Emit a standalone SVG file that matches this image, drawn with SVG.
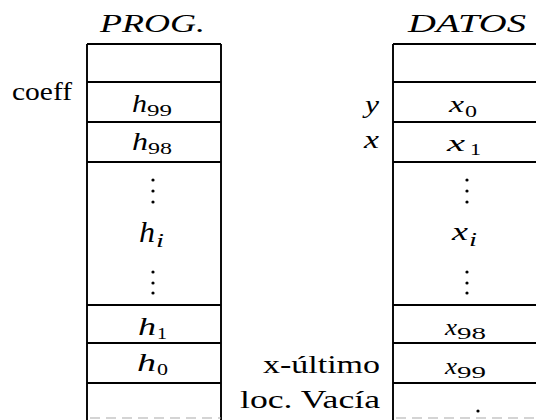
<svg xmlns="http://www.w3.org/2000/svg" width="536" height="420" viewBox="0 0 536 420">
<style>
.ln{stroke:#000;stroke-width:1.9;fill:none}
.faint{stroke:#aaa;stroke-width:1.2;stroke-dasharray:10 6;fill:none}
.t{font-family:"Liberation Serif","DejaVu Serif",serif;fill:#000}
.m{font-family:"Liberation Serif","DejaVu Serif",serif;font-style:italic;fill:#000}
.d{fill:#000}
</style>
<rect width="536" height="420" fill="#fff"/>
<g id="titles">
<text class="m" x="100" y="32" font-size="26" textLength="105" lengthAdjust="spacingAndGlyphs">PROG.</text>
<text class="m" x="408" y="32" font-size="26" textLength="118" lengthAdjust="spacingAndGlyphs">DATOS</text>
</g>
<g id="prog">
<path class="ln" d="M87,44 V420 M221,44 V420 M87,44 H221 M87,82 H221 M87,122 H221 M87,162 H221 M87,305 H221 M87,343 H221 M87,383 H221"/>
<path class="faint" d="M90,418 H221"/>
<g id="h99"><text class="m" x="132" y="112" font-size="25" textLength="15" lengthAdjust="spacingAndGlyphs">h</text><text class="t" x="147" y="116" font-size="17" textLength="25" lengthAdjust="spacingAndGlyphs">99</text></g>
<g id="h98"><text class="m" x="132" y="150" font-size="25" textLength="16" lengthAdjust="spacingAndGlyphs">h</text><text class="t" x="148" y="154" font-size="17" textLength="24" lengthAdjust="spacingAndGlyphs">98</text></g>
<g id="dots1"><circle class="d" cx="153" cy="180" r="1.6"/><circle class="d" cx="153" cy="191" r="1.6"/><circle class="d" cx="153" cy="202" r="1.6"/></g>
<g id="hi"><text class="m" x="139" y="242" font-size="30" textLength="16" lengthAdjust="spacingAndGlyphs">h</text><text class="m" x="156" y="247" font-size="18" textLength="8" lengthAdjust="spacingAndGlyphs">i</text></g>
<g id="dots2"><circle class="d" cx="153" cy="272" r="1.6"/><circle class="d" cx="153" cy="283" r="1.6"/><circle class="d" cx="153" cy="293" r="1.6"/></g>
<g id="h1"><text class="m" x="138" y="335" font-size="26" textLength="18" lengthAdjust="spacingAndGlyphs">h</text><text class="t" x="157" y="339" font-size="17" textLength="10" lengthAdjust="spacingAndGlyphs">1</text></g>
<g id="h0"><text class="m" x="137" y="371" font-size="26" textLength="19" lengthAdjust="spacingAndGlyphs">h</text><text class="t" x="157" y="375" font-size="17" textLength="11" lengthAdjust="spacingAndGlyphs">0</text></g>
</g>
<g id="datos">
<path class="ln" d="M393,44 V420 M393,44 H536 M393,82 H536 M393,122 H536 M393,162 H536 M393,305 H536 M393,343 H536 M393,383 H536"/>
<path class="faint" d="M396,418 H536"/>
<g id="x0"><text class="m" x="449" y="112" font-size="24" textLength="15" lengthAdjust="spacingAndGlyphs">x</text><text class="t" x="465" y="117" font-size="17" textLength="12" lengthAdjust="spacingAndGlyphs">0</text></g>
<g id="x1"><text class="m" x="447" y="151" font-size="24" textLength="18" lengthAdjust="spacingAndGlyphs">x</text><text class="t" x="470" y="155" font-size="17" textLength="11" lengthAdjust="spacingAndGlyphs">1</text></g>
<g id="dots3"><circle class="d" cx="467" cy="180" r="1.6"/><circle class="d" cx="467" cy="191" r="1.6"/><circle class="d" cx="467" cy="202" r="1.6"/></g>
<g id="xi"><text class="m" x="452" y="240" font-size="26" textLength="16" lengthAdjust="spacingAndGlyphs">x</text><text class="m" x="469" y="246" font-size="18" textLength="8" lengthAdjust="spacingAndGlyphs">i</text></g>
<g id="dots4"><circle class="d" cx="467" cy="272" r="1.6"/><circle class="d" cx="467" cy="283" r="1.6"/><circle class="d" cx="467" cy="293" r="1.6"/></g>
<g id="x98"><text class="m" x="445" y="335" font-size="24" textLength="12" lengthAdjust="spacingAndGlyphs">x</text><text class="t" x="457" y="339" font-size="17" textLength="29" lengthAdjust="spacingAndGlyphs">98</text></g>
<g id="x99"><text class="m" x="445" y="374" font-size="24" textLength="12" lengthAdjust="spacingAndGlyphs">x</text><text class="t" x="457" y="378" font-size="17" textLength="29" lengthAdjust="spacingAndGlyphs">99</text></g>
<g id="dot5"><circle class="d" cx="478" cy="411" r="1.6"/></g>
</g>
<g id="labels">
<text class="t" x="12" y="100" font-size="26" textLength="60" lengthAdjust="spacingAndGlyphs">coeff</text>
<text class="m" x="365" y="113" font-size="25" textLength="14" lengthAdjust="spacingAndGlyphs">y</text>
<text class="m" x="364" y="148" font-size="25" textLength="15" lengthAdjust="spacingAndGlyphs">x</text>
<text class="t" x="263" y="373" font-size="26" textLength="117" lengthAdjust="spacingAndGlyphs">x-último</text>
<text class="t" x="240" y="408" font-size="26" textLength="140" lengthAdjust="spacingAndGlyphs">loc. Vacía</text>
</g>
<g id="connectors"/>
</svg>
